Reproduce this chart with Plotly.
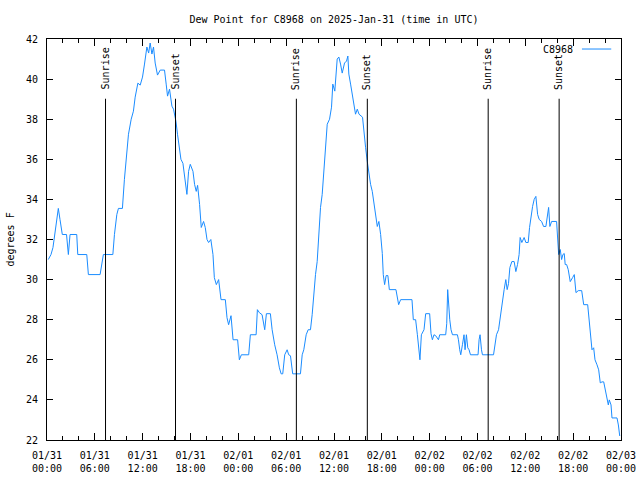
import pandas as pd
import plotly.graph_objects as go

# hours after 2025-01-31 00:00 UTC
hours = [0.16,0.50,0.75,1.01,1.26,1.42,1.63,1.82,1.92,2.45,2.68,2.89,3.73,3.86,4.99,5.19,6.66,7.07,8.26,8.46,
         8.76,8.96,9.46,9.71,9.96,10.22,10.56,10.84,11.06,11.40,11.69,11.98,12.23,12.53,12.75,12.94,13.16,13.36,13.57,13.86,
         14.20,14.74,14.95,15.12,15.37,15.67,15.87,16.17,16.37,16.62,16.80,17.05,17.25,17.55,17.76,17.97,18.31,18.51,18.72,18.89,
         19.14,19.35,19.64,19.85,20.07,20.27,20.55,20.82,20.99,21.24,21.53,21.83,22.37,22.58,22.78,23.08,23.34,23.91,24.13,24.38,
         25.30,25.51,26.23,26.39,26.64,26.98,27.31,27.52,28.02,28.24,28.56,28.86,29.15,29.37,29.57,29.82,30.12,30.32,30.54,30.82,
         31.79,32.01,32.21,32.51,32.76,33.05,33.26,33.46,33.68,33.89,34.09,34.31,34.52,34.72,34.93,35.15,35.44,35.69,35.85,36.10,
         36.40,36.61,36.82,37.03,37.32,37.57,37.74,37.86,38.08,38.29,38.49,38.70,38.92,39.14,39.58,39.75,39.96,40.17,40.38,40.59,
         40.80,41.00,41.22,41.43,41.63,41.85,42.06,42.18,42.35,42.54,42.76,42.94,43.77,43.94,44.11,44.36,45.78,45.95,46.24,46.46,
         46.66,46.78,46.96,47.29,47.50,48.00,48.17,48.34,48.54,48.76,49.10,49.26,50.01,50.14,50.26,50.35,50.52,50.68,50.86,51.48,
         51.61,51.77,51.90,52.11,52.31,52.44,52.61,52.78,52.94,53.12,54.07,54.20,54.32,54.50,54.62,56.01,56.17,56.38,56.64,56.80,
         56.96,57.14,57.34,57.55,57.72,57.89,58.06,58.31,58.60,58.81,59.02,59.22,59.35,59.56,59.73,59.85,60.07,60.36,60.53,60.69,
         60.91,61.11,61.32,61.54,61.74,62.04,62.29,62.58,62.79,62.92,63.08,63.30,63.92,64.05,64.18,64.38,64.55,64.71,64.88,65.00,
         65.18,65.38,65.63,65.93,66.14,66.35,66.64,67.07,67.32,67.82,68.02,68.23,68.36,68.57,68.74,68.99,69.20,69.40,69.62,69.83,
         70.03,70.24,70.41,70.53,70.75,70.87,71.50,71.67,71.84]
dewpoint = [31.0,31.25,31.6,32.3,33.0,33.55,33.0,32.3,32.25,32.25,31.25,32.25,32.25,31.25,31.25,30.25,30.25,31.25,31.25,32.25,
            33.25,33.55,33.55,35.0,36.25,37.25,38.0,38.4,39.1,39.8,39.7,40.1,40.75,41.6,41.3,41.8,41.25,41.6,40.8,40.2,
            40.45,40.45,39.75,39.15,39.5,38.65,38.5,37.9,37.25,36.6,36.0,35.8,35.1,34.25,35.4,35.75,35.4,34.75,34.4,34.7,
            33.75,32.6,32.9,32.6,32.0,31.85,32.0,31.25,30.1,29.75,30.0,29.0,29.0,28.1,27.75,28.2,27.0,27.0,26.0,26.25,
            26.25,27.25,27.25,28.5,28.35,28.25,27.5,28.3,28.3,27.5,26.75,26.25,25.6,25.3,25.3,26.25,26.5,26.25,26.2,25.3,
            25.3,26.25,26.5,27.25,27.5,27.5,28.25,29.25,30.25,30.9,32.4,33.6,34.25,35.4,36.6,37.75,38.0,38.6,39.75,39.4,
            41.0,41.1,40.75,40.3,40.8,40.9,41.15,40.25,39.75,39.25,38.9,38.25,38.5,38.25,38.1,37.25,36.6,35.9,35.25,34.75,
            34.4,33.9,33.25,32.65,32.9,32.25,31.3,30.25,29.75,30.2,30.2,29.5,29.5,29.0,28.75,29.0,29.0,28.0,28.0,27.25,
            26.25,26.0,27.25,27.5,28.3,28.3,27.3,27.0,27.25,27.2,27.0,27.25,27.25,27.8,29.5,28.9,28.0,27.5,27.25,27.25,
            27.0,26.5,26.25,26.75,27.25,26.5,27.25,26.6,26.5,26.25,26.25,27.0,27.25,26.5,26.25,26.25,26.75,27.25,27.5,28.0,
            28.5,28.9,29.5,30.0,29.5,29.8,30.6,30.9,30.9,30.4,30.75,31.25,32.1,31.85,32.0,32.1,31.85,31.85,32.6,33.15,
            33.65,34.0,34.15,33.25,33.0,32.9,32.65,32.65,33.4,33.6,32.65,32.9,32.9,31.65,31.25,31.5,31.0,31.25,31.3,30.75,
            30.75,30.5,29.9,30.1,30.25,29.35,29.45,29.45,28.75,28.75,27.8,27.25,26.5,26.6,26.0,25.75,25.5,24.85,24.9,24.9,
            24.5,24.0,23.75,24.0,23.75,23.1,23.1,22.75,22.2]

sun_hours = [7.34, 16.12, 31.28, 40.18, 55.34, 64.24]
sun_labels = ["Sunrise", "Sunset", "Sunrise", "Sunset", "Sunrise", "Sunset"]

start = pd.Timestamp("2025-01-31 00:00")
end = pd.Timestamp("2025-02-03 00:00")
times = [start + pd.Timedelta(hours=h) for h in hours]
sun_times = [start + pd.Timedelta(hours=h) for h in sun_hours]

FONT = "DejaVu Sans Mono"
fig = go.Figure()
fig.add_trace(go.Scatter(x=times, y=dewpoint, mode="lines",
                         line=dict(color="#1a8cff", width=1), name="C8968",
                         showlegend=False))

for t, lab in zip(sun_times, sun_labels):
    fig.add_shape(type="line", xref="x", yref="paper", x0=t, x1=t, y0=0, y1=0.851,
                  line=dict(color="black", width=1))
    fig.add_annotation(x=t, xref="x", y=0.868, yref="paper", text=lab, textangle=-90,
                       showarrow=False, xanchor="center", yanchor="bottom",
                       font=dict(family=FONT, size=10, color="black"))

# legend (gnuplot style: text then line sample)
fig.add_annotation(x=0.920, xref="paper", y=0.975, yref="paper", text="C8968",
                   showarrow=False, xanchor="right", yanchor="middle",
                   font=dict(family=FONT, size=10, color="black"))
fig.add_shape(type="line", xref="paper", yref="paper", x0=0.932, x1=0.983, y0=0.975, y1=0.975,
              line=dict(color="#1a8cff", width=1))

# y-axis title
fig.add_annotation(x=-37 / 574, xref="paper", y=0.5, yref="paper", text="degrees F", textangle=-90,
                   showarrow=False, xanchor="center", yanchor="middle",
                   font=dict(family=FONT, size=10, color="black"))

fig.update_layout(
    width=640, height=480,
    margin=dict(l=47, r=19, t=39, b=40, autoexpand=False),
    paper_bgcolor="white", plot_bgcolor="white",
    font=dict(family=FONT, size=10, color="black"),
    title=dict(text="Dew Point for C8968 on 2025-Jan-31 (time in UTC)", x=0.5, xref="paper",
               y=1 - 19 / 480, yref="container", yanchor="middle", xanchor="center",
               font=dict(family=FONT, size=10, color="black")),
)
fig.update_xaxes(range=[start, end], type="date", dtick=6 * 3600 * 1000, tick0=start,
                 tickformat="%m/%d<br>%H:%M", ticks="inside", ticklen=7, tickcolor="black",
                 showline=True, linecolor="black", linewidth=1, mirror="ticks", showgrid=False,
                 zeroline=False, automargin=False, ticklabelstandoff=6,
                 minor=dict(dtick=2 * 3600 * 1000, ticks="inside", ticklen=4, tickcolor="black", showgrid=False))
fig.update_yaxes(range=[22, 42], dtick=2, ticks="inside", ticklen=6, tickcolor="black",
                 showline=True, linecolor="black", linewidth=1, mirror="ticks", showgrid=False,
                 zeroline=False, automargin=False, ticklabelstandoff=6)

fig.write_html("out.html", config={"displayModeBar": False},
               post_script="document.body.style.margin='0';")
